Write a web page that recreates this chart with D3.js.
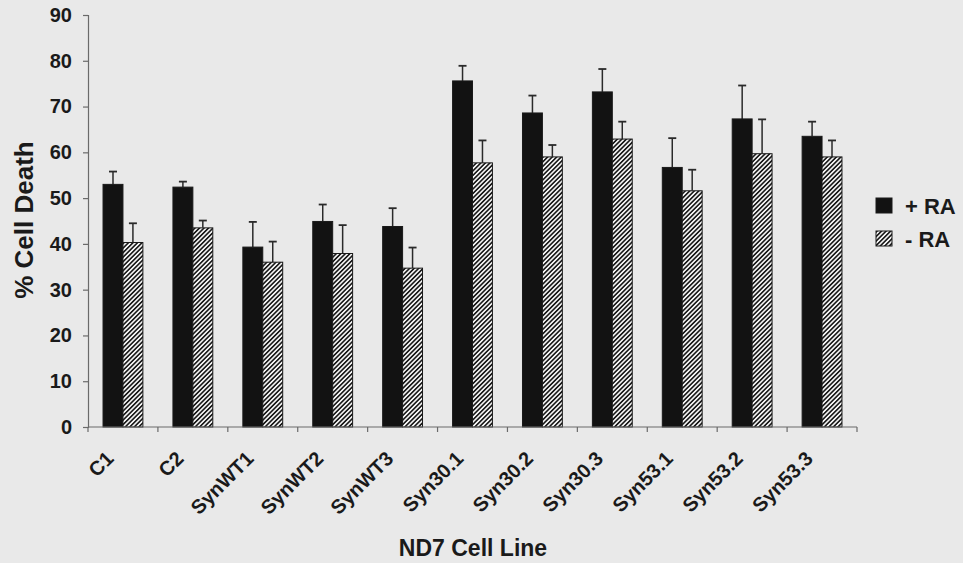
<!DOCTYPE html>
<html>
<head>
<meta charset="utf-8">
<script src="https://cdn.jsdelivr.net/npm/d3@7"></script>
<style>
  html, body { margin: 0; padding: 0; background: #e9e9e9; }
  svg { display: block; }
  text { font-family: "Liberation Sans", Arial, sans-serif; font-weight: bold; fill: #1a1a1a; }
</style>
</head>
<body>
<svg id="chart" width="963" height="563"></svg>
<script>
// Cell lines along the x axis
const categories = ["C1", "C2", "SynWT1", "SynWT2", "SynWT3", "Syn30.1", "Syn30.2", "Syn30.3", "Syn53.1", "Syn53.2", "Syn53.3"];
// Series names (legend)
const seriesNames = ["+ RA", "- RA"];
// Mean % cell death
const plusRA  = [53.0, 52.4, 39.3, 44.9, 43.8, 75.6, 68.6, 73.2, 56.7, 67.3, 63.5];
const minusRA = [40.3, 43.5, 36.0, 37.9, 34.7, 57.7, 59.0, 62.9, 51.6, 59.7, 59.0];
// Upper error (SD)
const plusErr  = [2.8, 1.2, 5.5, 3.7, 4.0, 3.3, 3.8, 5.0, 6.4, 7.3, 3.2];
const minusErr = [4.2, 1.6, 4.5, 6.2, 4.5, 4.9, 2.6, 3.8, 4.6, 7.5, 3.6];
// Y ticks
const yTicks = [0, 10, 20, 30, 40, 50, 60, 70, 80, 90];

const svg = d3.select("#chart");
const plotLeft = 88, plotRight = 857, plotTop = 15, plotBottom = 427;

const x = d3.scaleBand().domain(categories).range([plotLeft, plotRight])
  .paddingInner(0.43).paddingOuter(0.215);
const xs = d3.scaleBand().domain(seriesNames).range([0, x.bandwidth()]);
const y = d3.scaleLinear().domain([0, 90]).range([plotBottom, plotTop]);

// Hatch pattern for "- RA"
const defs = svg.append("defs");
const pat = defs.append("pattern").attr("id", "hatch")
  .attr("patternUnits", "userSpaceOnUse").attr("width", 3.2).attr("height", 3.2)
  .attr("patternTransform", "rotate(45)");
pat.append("rect").attr("width", 3.2).attr("height", 3.2).attr("fill", "#f2f2f2");
pat.append("rect").attr("width", 1.6).attr("height", 3.2).attr("fill", "#1a1a1a");

const rows = categories.map((c, i) => ({
  cat: c,
  vals: [
    { s: seriesNames[0], v: plusRA[i], e: plusErr[i] },
    { s: seriesNames[1], v: minusRA[i], e: minusErr[i] }
  ]
}));
const fillOf = s => s === seriesNames[0] ? "#121212" : "url(#hatch)";

// Error bars (upper only), drawn beneath the bars
const groups = svg.append("g").selectAll("g").data(rows).join("g")
  .attr("transform", d => `translate(${x(d.cat)},0)`);

groups.selectAll("g.err").data(d => d.vals).join("g").attr("class", "err")
  .each(function(d) {
    const g = d3.select(this);
    const cx = xs(d.s) + xs.bandwidth() / 2;
    g.append("line").attr("x1", cx).attr("x2", cx)
      .attr("y1", y(d.v)).attr("y2", y(d.v + d.e))
      .attr("stroke", "#2a2a2a").attr("stroke-width", 1.5);
    g.append("line").attr("x1", cx - 4).attr("x2", cx + 4)
      .attr("y1", y(d.v + d.e)).attr("y2", y(d.v + d.e))
      .attr("stroke", "#2a2a2a").attr("stroke-width", 1.8);
  });

groups.selectAll("rect").data(d => d.vals).join("rect")
  .attr("x", d => xs(d.s))
  .attr("y", d => y(d.v))
  .attr("width", xs.bandwidth())
  .attr("height", d => y(0) - y(d.v))
  .attr("fill", d => fillOf(d.s))
  .attr("stroke", "#1a1a1a").attr("stroke-width", 1);

// Y axis
const yAxis = svg.append("g").attr("transform", `translate(${plotLeft},0)`)
  .call(d3.axisLeft(y).tickValues(yTicks).tickSize(5).tickPadding(11));
yAxis.select(".domain").attr("stroke", "#6a6a6a").attr("stroke-width", 1.2);
yAxis.selectAll(".tick line").attr("stroke", "#6a6a6a").attr("stroke-width", 1.2);
yAxis.selectAll(".tick text").style("font-size", "20px")
  .style("font-family", "'Liberation Sans', Arial, sans-serif").style("font-weight", "bold")
  .attr("fill", "#1a1a1a");

// X axis: line with ticks between groups
const xg = svg.append("g");
xg.append("line").attr("x1", plotLeft).attr("x2", plotRight).attr("y1", plotBottom).attr("y2", plotBottom)
  .attr("stroke", "#6a6a6a").attr("stroke-width", 1.2);
const gap = (x.step() - x.bandwidth()) / 2;
const bounds = categories.map(c => x(c) - gap).concat([plotRight]);
xg.selectAll("line.tk").data(bounds).join("line").attr("class", "tk")
  .attr("x1", d => d).attr("x2", d => d).attr("y1", plotBottom).attr("y2", plotBottom + 5)
  .attr("stroke", "#6a6a6a").attr("stroke-width", 1.2);
xg.selectAll("text").data(categories).join("text")
  .attr("transform", c => `translate(${x(c) + x.bandwidth() / 2 - 8},${plotBottom + 33}) rotate(-45)`)
  .attr("text-anchor", "end")
  .style("font-size", "20px")
  .text(c => c);

// Axis titles
svg.append("text").attr("transform", `translate(33,220) rotate(-90)`)
  .attr("text-anchor", "middle").style("font-size", "26px").text("% Cell Death");
svg.append("text").attr("x", 473).attr("y", 556)
  .attr("text-anchor", "middle").style("font-size", "23px").text("ND7 Cell Line");

// Legend
const lg = svg.append("g").selectAll("g").data(seriesNames).join("g")
  .attr("transform", (d, i) => `translate(876,${198 + i * 33})`);
lg.append("rect").attr("width", 16).attr("height", 15)
  .attr("fill", d => fillOf(d)).attr("stroke", "#1a1a1a").attr("stroke-width", 1);
lg.append("text").attr("x", 29).attr("y", 15.5).style("font-size", "22px").text(d => d);
</script>
</body>
</html>
